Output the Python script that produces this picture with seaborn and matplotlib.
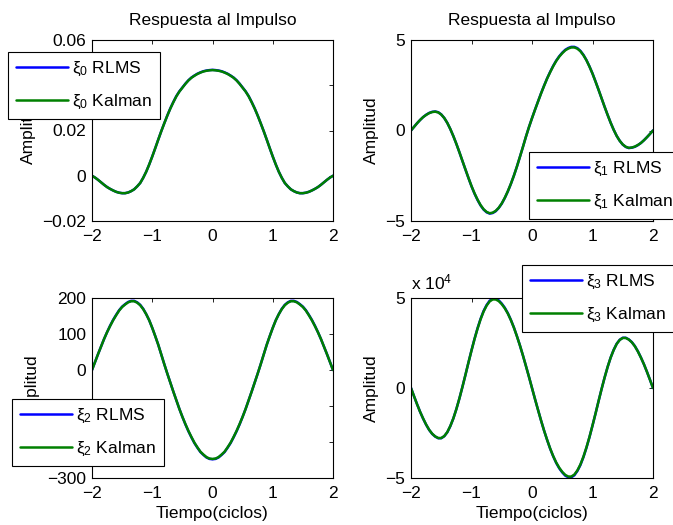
import numpy as np
import pandas as pd
import matplotlib
matplotlib.use("Agg")
import matplotlib.pyplot as plt
import seaborn as sns
from matplotlib.ticker import FuncFormatter

# Time axis (cycles), sampled every 0.05
t = np.linspace(-2, 2, 81)

# Impulse responses of the four coefficients, RLMS estimate
xi0_rlms = [0.0, -0.0008, -0.0018, -0.0029, -0.0040, -0.0050, -0.0058, -0.0065, -0.0071, -0.0075,
            -0.0077, -0.0077, -0.0074, -0.0068, -0.0060, -0.0047, -0.0032, -0.0009, 0.0018, 0.0050,
            0.0085, 0.0122, 0.0160, 0.0197, 0.0232, 0.0266, 0.0298, 0.0326, 0.0352, 0.0373,
            0.0390, 0.0407, 0.0422, 0.0434, 0.0443, 0.0451, 0.0457, 0.0462, 0.0465, 0.0467,
            0.0468,
            0.0467, 0.0465, 0.0462, 0.0457, 0.0451, 0.0443, 0.0434, 0.0422, 0.0407, 0.0390,
            0.0373, 0.0352, 0.0326, 0.0298, 0.0266, 0.0232, 0.0197, 0.0160, 0.0122, 0.0085,
            0.0050, 0.0018, -0.0009, -0.0032, -0.0047, -0.0060, -0.0068, -0.0074, -0.0077, -0.0077,
            -0.0075, -0.0071, -0.0065, -0.0058, -0.0050, -0.0040, -0.0029, -0.0018, -0.0008, 0.0]
xi1_rlms = [0.00, 0.20, 0.40, 0.58, 0.74, 0.87, 0.97, 1.03, 1.05, 1.01,
            0.89, 0.69, 0.42, 0.08, -0.31, -0.74, -1.20, -1.68, -2.16, -2.63,
            -3.08, -3.49, -3.84, -4.14, -4.37, -4.52, -4.59, -4.56, -4.46, -4.28,
            -4.04, -3.73, -3.37, -2.96, -2.50, -2.00, -1.46, -0.91, -0.34, 0.19,
            0.68,
            1.15, 1.61, 2.06, 2.48, 2.88, 3.24, 3.57, 3.86, 4.10, 4.30,
            4.46, 4.56, 4.62, 4.62, 4.55, 4.40, 4.18, 3.89, 3.54, 3.15,
            2.71, 2.25, 1.78, 1.31, 0.86, 0.43, 0.04, -0.30, -0.57, -0.78,
            -0.91, -0.97, -0.95, -0.90, -0.81, -0.69, -0.54, -0.37, -0.19, 0.00]
xi2_rlms = [0, 22, 44, 65, 86, 105, 123, 139, 153, 166,
            176, 183, 189, 192, 192, 188, 181, 170, 155, 138,
            117, 94, 70, 43, 16, -10, -35, -60, -84, -108,
            -130, -151, -170, -187, -203, -216, -228, -236, -243, -247,
            -248,
            -247, -243, -236, -228, -216, -203, -187, -170, -151, -130,
            -108, -84, -60, -35, -10, 16, 43, 70, 94, 117,
            138, 155, 170, 181, 188, 192, 192, 189, 183, 176,
            166, 153, 139, 123, 105, 86, 65, 44, 22, 0]
xi3_rlms = [0, -4560, -9000, -13200, -17000, -20400, -23300, -25500, -27000, -27900,
            -27900, -26800, -24600, -21200, -16900, -11700, -5800, 600, 7300, 14200,
            20900, 27300, 33200, 38400, 42800, 46100, 48500, 49600, 49600, 48700,
            46900, 44600, 41600, 37900, 33700, 28900, 23700, 18100, 12200, 6200,
            0,
            -6200, -12200, -18100, -23700, -28900, -33700, -37900, -41600, -44600, -46900,
            -48700, -49600, -49600, -48500, -46100, -42800, -38400, -33200, -27300, -20900,
            -14200, -7300, -600, 5800, 11700, 16900, 21200, 24600, 26800, 27900,
            27900, 27000, 25500, 23300, 20400, 17000, 13200, 9000, 4560, 0]

# Same responses, Kalman estimate
xi0_kalman = [0.0, -0.0008, -0.0018, -0.0029, -0.0040, -0.0050, -0.0058, -0.0065, -0.0071, -0.0075,
              -0.0077, -0.0077, -0.0074, -0.0068, -0.0060, -0.0047, -0.0032, -0.0009, 0.0018, 0.0050,
              0.0085, 0.0122, 0.0160, 0.0197, 0.0232, 0.0266, 0.0297, 0.0325, 0.0351, 0.0372,
              0.0389, 0.0406, 0.0421, 0.0433, 0.0442, 0.0450, 0.0456, 0.0461, 0.0464, 0.0466,
              0.0467,
              0.0466, 0.0464, 0.0461, 0.0456, 0.0450, 0.0442, 0.0433, 0.0421, 0.0406, 0.0389,
              0.0372, 0.0351, 0.0325, 0.0297, 0.0266, 0.0232, 0.0197, 0.0160, 0.0122, 0.0085,
              0.0050, 0.0018, -0.0009, -0.0032, -0.0047, -0.0060, -0.0068, -0.0074, -0.0077, -0.0077,
              -0.0075, -0.0071, -0.0065, -0.0058, -0.0050, -0.0040, -0.0029, -0.0018, -0.0008, 0.0]
xi1_kalman = [0.00, 0.20, 0.40, 0.58, 0.74, 0.86, 0.96, 1.02, 1.04, 1.00,
              0.88, 0.69, 0.42, 0.08, -0.31, -0.74, -1.20, -1.68, -2.15, -2.62,
              -3.07, -3.47, -3.82, -4.12, -4.35, -4.50, -4.57, -4.54, -4.44, -4.27,
              -4.03, -3.72, -3.36, -2.95, -2.50, -2.00, -1.46, -0.91, -0.34, 0.19,
              0.68,
              1.15, 1.60, 2.05, 2.47, 2.87, 3.22, 3.55, 3.84, 4.08, 4.27,
              4.43, 4.53, 4.59, 4.59, 4.52, 4.38, 4.16, 3.88, 3.53, 3.14,
              2.70, 2.25, 1.78, 1.31, 0.86, 0.43, 0.04, -0.30, -0.57, -0.77,
              -0.90, -0.96, -0.94, -0.89, -0.80, -0.69, -0.54, -0.37, -0.19, 0.00]
xi2_kalman = [0, 22, 44, 65, 86, 105, 122, 138, 152, 165,
              175, 182, 188, 191, 191, 187, 180, 169, 155, 138,
              117, 94, 70, 43, 16, -10, -35, -60, -84, -108,
              -130, -150, -169, -186, -202, -215, -227, -235, -242, -246,
              -247,
              -246, -242, -235, -227, -215, -202, -186, -169, -150, -130,
              -108, -84, -60, -35, -10, 16, 43, 70, 94, 117,
              138, 155, 169, 180, 187, 191, 191, 188, 182, 175,
              165, 152, 138, 122, 105, 86, 65, 44, 22, 0]
xi3_kalman = [0, -4560, -9000, -13200, -16900, -20300, -23200, -25400, -26900, -27800,
              -27800, -26700, -24500, -21100, -16900, -11700, -5800, 600, 7300, 14200,
              20800, 27200, 33000, 38200, 42500, 45800, 48100, 49200, 49200, 48300,
              46600, 44300, 41400, 37800, 33600, 28800, 23700, 18100, 12200, 6200,
              0,
              -6200, -12200, -18100, -23700, -28800, -33600, -37800, -41400, -44300, -46600,
              -48300, -49200, -49200, -48100, -45800, -42500, -38200, -33000, -27200, -20800,
              -14200, -7300, -600, 5800, 11700, 16900, 21100, 24500, 26700, 27800,
              27800, 26900, 25400, 23200, 20300, 16900, 13200, 9000, 4560, 0]

index_labels = ["0", "1", "2", "3"]
title_text = "Respuesta al Impulso"
xlabel_text = "Tiempo(ciclos)"
ylabel_text = "Amplitud"
xticks = [-2, -1, 0, 1, 2]
yticks_list = [[-0.02, 0, 0.02, 0.04, 0.06], [-5, 0, 5],
               [-300, -200, -100, 0, 100, 200], [-50000, 0, 50000]]
ylims = [(-0.02, 0.06), (-5, 5), (-300, 200), (-50000, 50000)]

FS = 12.5

sns.set_style("white")
plt.rcParams.update({
    "font.family": ["Liberation Sans", "DejaVu Sans"],
    "font.size": FS,
    "mathtext.fontset": "custom",
    "mathtext.rm": "Liberation Sans",
    "mathtext.it": "Liberation Sans:italic",
    "axes.edgecolor": "black",
    "axes.linewidth": 0.8,
    "axes.labelcolor": "black",
    "text.color": "black",
    "xtick.color": "black",
    "ytick.color": "black",
    "xtick.direction": "in",
    "ytick.direction": "in",
    "xtick.top": True,
    "ytick.right": True,
    "xtick.major.size": 2.6,
    "ytick.major.size": 2.6,
    "xtick.major.width": 0.6,
    "ytick.major.width": 0.6,
    "xtick.labelsize": FS,
    "ytick.labelsize": FS,
})

fig = plt.figure(figsize=(6.73, 5.25), dpi=100)
W, H = 673, 525


def fig_rect(x0, y0, x1, y1):
    return [x0 / W, 1 - y1 / H, (x1 - x0) / W, (y1 - y0) / H]


axes = [
    fig.add_axes(fig_rect(92, 40, 333, 221)),
    fig.add_axes(fig_rect(411, 40, 653, 221)),
    fig.add_axes(fig_rect(92, 298, 333, 478)),
    fig.add_axes(fig_rect(411, 298, 653, 478)),
]
legend_corners = [(8, 52), (529, 152), (12, 399), (522, 265)]

rlms_sets = [xi0_rlms, xi1_rlms, xi2_rlms, xi3_rlms]
kalman_sets = [xi0_kalman, xi1_kalman, xi2_kalman, xi3_kalman]


def fmt_plain(v, pos):
    return ("%g" % v).replace("-", "\u2212")


def fmt_e4(v, pos):
    return ("%g" % (v / 1e4)).replace("-", "\u2212")


for i, ax in enumerate(axes):
    df = pd.DataFrame({"t": t, "RLMS": rlms_sets[i], "Kalman": kalman_sets[i]})
    lab_r = r"$\mathregular{\xi_%s}$ RLMS" % index_labels[i]
    lab_k = r"$\mathregular{\xi_%s}$ Kalman" % index_labels[i]
    sns.lineplot(data=df, x="t", y="RLMS", ax=ax, color="#0000ff", lw=1.8, label=lab_r)
    sns.lineplot(data=df, x="t", y="Kalman", ax=ax, color="#008000", lw=1.8, label=lab_k)

    ax.set_xlim(-2, 2)
    ax.set_ylim(*ylims[i])
    ax.set_xticks(xticks)
    ax.set_yticks(yticks_list[i])
    ax.xaxis.set_major_formatter(FuncFormatter(fmt_plain))
    ax.yaxis.set_major_formatter(FuncFormatter(fmt_e4 if i == 3 else fmt_plain))
    ax.tick_params(axis="y", which="major", pad=4)
    ax.tick_params(axis="x", which="major", pad=5.5)
    for sp in ax.spines.values():
        sp.set_visible(True)
        sp.set_color("black")
        sp.set_linewidth(0.8)

    ax.set_ylabel(ylabel_text, fontsize=FS, labelpad=5)
    if i < 2:
        ax.set_title(title_text, fontsize=FS, pad=11)
        ax.set_xlabel("")
    else:
        ax.set_xlabel(xlabel_text, fontsize=FS, labelpad=4)

    lx, ly = legend_corners[i]
    leg = ax.legend(loc="upper left", bbox_to_anchor=(lx / W, 1 - ly / H),
                    bbox_transform=fig.transFigure, frameon=True, fancybox=False,
                    edgecolor="black", framealpha=1, borderaxespad=0,
                    handlelength=3.0, handletextpad=0.25, borderpad=0.45,
                    labelspacing=0.85, fontsize=FS)
    leg.get_frame().set_linewidth(0.8)
    leg.set_zorder(10)

# exponent label of the last panel
axes[3].annotate(r"x 10$^{\mathregular{4}}$", xy=(0, 1), xycoords="axes fraction",
                 xytext=(0, 6.5), textcoords="offset points", ha="left", va="baseline",
                 fontsize=FS)

fig.savefig("out.png", dpi=100, facecolor="white")
